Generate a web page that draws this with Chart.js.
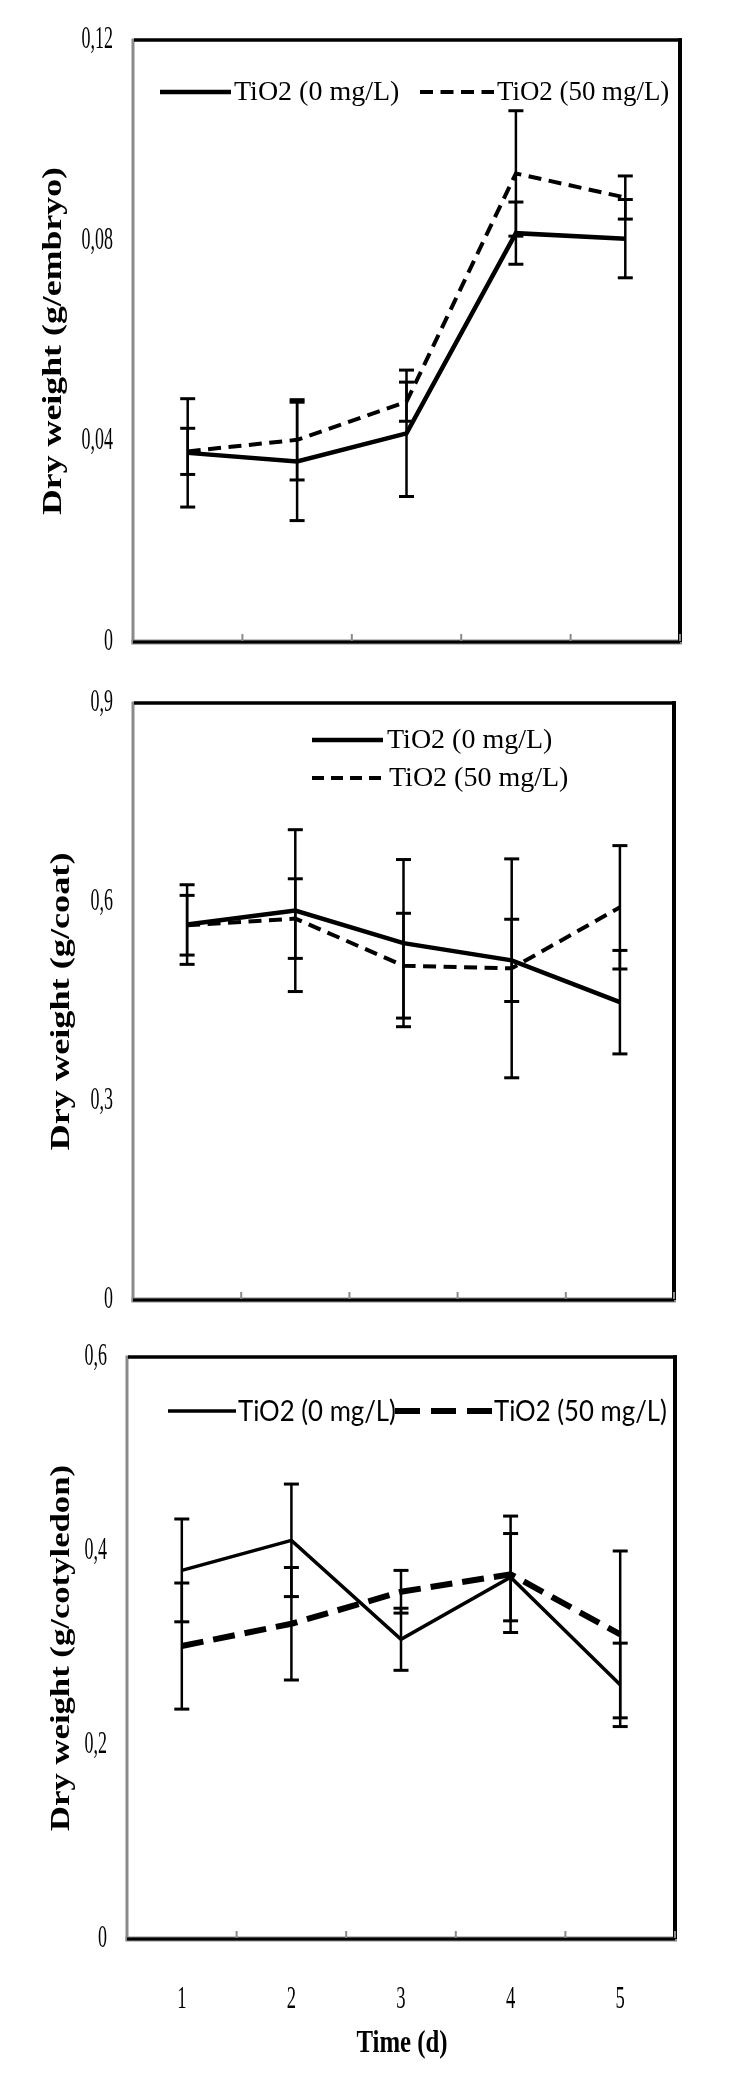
<!DOCTYPE html>
<html>
<head>
<meta charset="utf-8">
<title>Dry weight vs time</title>
<script src="https://cdn.jsdelivr.net/npm/chart.js@4.4.1/dist/chart.umd.min.js"></script>
<style>
  html, body { margin: 0; padding: 0; background: #ffffff; }
  body { width: 752px; height: 2079px; position: relative; overflow: hidden; }
  canvas { position: absolute; left: 0; }
</style>
</head>
<body>
<canvas id="chartEmbrion" width="752" height="680" style="top:0px"></canvas>
<canvas id="chartCubierta" width="752" height="650" style="top:680px"></canvas>
<canvas id="chartCotiledon" width="752" height="749" style="top:1330px"></canvas>
<script>
// Datos (peso seco por día)
const dias = ['1', '2', '3', '4', '5'];
const etiquetas = ['TiO2 (0 mg/L)', 'TiO2 (50 mg/L)'];

// embrión
const embrion0 = [0.0377, 0.0360, 0.0416, 0.0815, 0.0804];
const embrion50 = [0.0380, 0.0403, 0.0479, 0.0934, 0.0886];
const embrion0Err = [0.0108, 0.0118, 0.0126, 0.0062, 0.0078];
const embrion50Err = [0.0046, 0.0080, 0.0039, 0.0125, 0.0043];
const embrionTicks = ['0', '0,04', '0,08', '0,12'];

// cubierta (coat)
const cubierta0 = [0.566, 0.587, 0.538, 0.512, 0.449];
const cubierta50 = [0.565, 0.575, 0.504, 0.500, 0.592];
const cubierta0Err = [0.060, 0.122, 0.126, 0.062, 0.078];
const cubierta50Err = [0.045, 0.060, 0.079, 0.165, 0.093];
const cubiertaTicks = ['0', '0,3', '0,6', '0,9'];

// cotiledón
const cotiledon0 = [0.380, 0.411, 0.309, 0.373, 0.262];
const cotiledon50 = [0.302, 0.325, 0.358, 0.376, 0.314];
const cotiledon0Err = [0.053, 0.058, 0.032, 0.045, 0.043];
const cotiledon50Err = [0.065, 0.058, 0.022, 0.060, 0.086];
const cotiledonTicks = ['0', '0,2', '0,4', '0,6'];

const SERIF = '"Liberation Serif", "Times New Roman", serif';

// Texto con escala horizontal (la figura original tiene letras estrechas)
function texto(ctx, s, x, y, font, sx, align) {
    ctx.save();
    ctx.font = font;
    ctx.fillStyle = '#000';
    ctx.textAlign = align || 'left';
    ctx.textBaseline = 'middle';
    ctx.translate(x, y);
    ctx.scale(sx, 1);
    ctx.fillText(s, 0, 0);
    ctx.restore();
}

// Título del eje Y girado, estirado hasta el largo indicado
function tituloVertical(ctx, s, cx, cy, font, largo) {
    ctx.save();
    ctx.font = font;
    ctx.fillStyle = '#000';
    ctx.textAlign = 'center';
    ctx.textBaseline = 'middle';
    ctx.translate(cx, cy);
    ctx.rotate(-Math.PI / 2);
    const w = ctx.measureText(s).width;
    ctx.scale(largo / w, 1);
    ctx.fillText(s, 0, 0);
    ctx.restore();
}

function linea(ctx, x1, y1, x2, y2, color, ancho, dash) {
    ctx.save();
    ctx.strokeStyle = color;
    ctx.lineWidth = ancho;
    ctx.setLineDash(dash || []);
    ctx.beginPath();
    ctx.moveTo(x1, y1);
    ctx.lineTo(x2, y2);
    ctx.stroke();
    ctx.restore();
}

function crearGrafico(id, cfg) {
    const canvas = document.getElementById(id);
    const H = canvas.height;

    const pluginFigura = {
        id: 'figura',
        // barras de error (media ± error)
        beforeDatasetsDraw(chart) {
            const ctx = chart.ctx;
            const yScale = chart.scales.y;
            cfg.errores.forEach((errs, i) => {
                const meta = chart.getDatasetMeta(i);
                const datos = chart.data.datasets[i].data;
                meta.data.forEach((pt, j) => {
                    const yArriba = yScale.getPixelForValue(datos[j] + errs[j]);
                    const yAbajo = yScale.getPixelForValue(datos[j] - errs[j]);
                    linea(ctx, pt.x, yArriba, pt.x, yAbajo, '#000', 2.5);
                    linea(ctx, pt.x - 7.5, yArriba, pt.x + 7.5, yArriba, '#000', 3);
                    linea(ctx, pt.x - 7.5, yAbajo, pt.x + 7.5, yAbajo, '#000', 3);
                });
            });
        },
        afterDraw(chart) {
            const ctx = chart.ctx;
            const a = chart.chartArea;

            // marco: eje izquierdo gris, borde superior y derecho negros
            linea(ctx, a.left, a.top - 1.5, a.left, a.bottom + 2, '#8a8a8a', 3);
            linea(ctx, a.left - 1.5, a.bottom, a.right + 2, a.bottom, '#8a8a8a', 5);
            linea(ctx, a.left, a.bottom, a.right, a.bottom, '#000', 3);
            linea(ctx, a.left + 1, a.top, a.right + 2, a.top, '#000', 3.5);
            linea(ctx, a.right, a.top - 1.75, a.right, a.bottom, '#000', 4);

            // marcas entre categorías, hacia adentro
            const paso = (a.right - a.left) / dias.length;
            for (let k = 1; k <= dias.length; k++) {
                const x = a.left + k * paso;
                linea(ctx, x, a.bottom - 1, x, a.bottom - 8, '#8a8a8a', 2);
            }

            // etiquetas del eje Y
            const yScale = chart.scales.y;
            yScale.ticks.forEach((t, i) => {
                texto(ctx, cfg.ticks[i], a.left - 20, yScale.getPixelForValue(t.value),
                    '31px ' + SERIF, 0.58, 'right');
            });

            // etiquetas del eje X (solo el último panel)
            if (cfg.ejeX) {
                const xScale = chart.scales.x;
                dias.forEach((d, i) => {
                    texto(ctx, d, xScale.getPixelForValue(i), cfg.ejeX.y, '31px ' + SERIF, 0.6, 'center');
                });
                texto(ctx, 'Time (d)', cfg.ejeX.tx, cfg.ejeX.ty, 'bold 31px ' + SERIF, 0.8, 'center');
            }

            tituloVertical(ctx, cfg.tituloY, cfg.tituloX, (a.top + a.bottom) / 2,
                'bold 28px ' + SERIF, cfg.tituloLargo);

            // leyenda
            cfg.leyenda.forEach(item => {
                linea(ctx, item.x1, item.y, item.x2, item.y, '#000', item.ancho, item.dash);
                texto(ctx, item.txt, item.tx, item.y + 1, item.font, item.sx, 'left');
            });
        }
    };

    return new Chart(canvas.getContext('2d'), {
        type: 'line',
        data: {
            labels: dias,
            datasets: [
                {
                    label: etiquetas[0],
                    data: cfg.d0,
                    borderColor: '#000',
                    borderWidth: cfg.ancho0,
                    pointRadius: 0,
                    tension: 0,
                    fill: false
                },
                {
                    label: etiquetas[1],
                    data: cfg.d50,
                    borderColor: '#000',
                    borderWidth: cfg.ancho50,
                    borderDash: cfg.dash50,
                    pointRadius: 0,
                    tension: 0,
                    fill: false
                }
            ]
        },
        options: {
            responsive: false,
            animation: false,
            devicePixelRatio: 1,
            layout: { padding: { left: 0, right: 752 - cfg.derecha, top: cfg.arriba, bottom: 0 } },
            plugins: {
                legend: { display: false },
                tooltip: { enabled: false }
            },
            scales: {
                x: {
                    offset: true,
                    grid: { display: false },
                    border: { display: false },
                    ticks: { display: false },
                    afterFit: s => { s.height = H - cfg.abajo; }
                },
                y: {
                    min: 0,
                    max: cfg.max,
                    grid: { display: false },
                    border: { display: false },
                    ticks: { display: false, stepSize: cfg.paso },
                    afterFit: s => { s.width = cfg.izquierda; }
                }
            }
        },
        plugins: [pluginFigura]
    });
}

// Panel 1: embrión
crearGrafico('chartEmbrion', {
    d0: embrion0, d50: embrion50, errores: [embrion0Err, embrion50Err],
    max: 0.12, paso: 0.04, ticks: embrionTicks,
    izquierda: 133, derecha: 680, arriba: 40, abajo: 642,
    ancho0: 4.5, ancho50: 4, dash50: [13, 7.5],
    tituloY: 'Dry weight (g/embryo)', tituloX: 54, tituloLargo: 348,
    leyenda: [
        { x1: 160, x2: 231, y: 92, ancho: 4.5, dash: [], txt: etiquetas[0], tx: 234, font: '28px ' + SERIF, sx: 1 },
        { x1: 420, x2: 494, y: 92, ancho: 4, dash: [13, 7.5], txt: etiquetas[1], tx: 497, font: '28px ' + SERIF, sx: 0.96 }
    ]
});

// Panel 2: cubierta
crearGrafico('chartCubierta', {
    d0: cubierta0, d50: cubierta50, errores: [cubierta0Err, cubierta50Err],
    max: 0.9, paso: 0.3, ticks: cubiertaTicks,
    izquierda: 133, derecha: 674, arriba: 23, abajo: 620,
    ancho0: 4.5, ancho50: 4, dash50: [13, 7.5],
    tituloY: 'Dry weight (g/coat)', tituloX: 62, tituloLargo: 298,
    leyenda: [
        { x1: 312, x2: 383, y: 60, ancho: 4.5, dash: [], txt: etiquetas[0], tx: 387, font: '28px ' + SERIF, sx: 1 },
        { x1: 312, x2: 381, y: 98, ancho: 4, dash: [12, 7], txt: etiquetas[1], tx: 389, font: '28px ' + SERIF, sx: 1 }
    ]
});

// Panel 3: cotiledón
crearGrafico('chartCotiledon', {
    d0: cotiledon0, d50: cotiledon50, errores: [cotiledon0Err, cotiledon50Err],
    max: 0.6, paso: 0.2, ticks: cotiledonTicks,
    izquierda: 127, derecha: 675, arriba: 27, abajo: 609,
    ancho0: 3.5, ancho50: 6, dash50: [22, 10],
    tituloY: 'Dry weight (g/cotyledon)', tituloX: 62, tituloLargo: 366,
    ejeX: { y: 670, tx: 402, ty: 714 },
    leyenda: [
        { x1: 168, x2: 236, y: 81, ancho: 3.5, dash: [], txt: etiquetas[0], tx: 238, font: '28px Lato, "Open Sans", sans-serif', sx: 0.92 },
        { x1: 395, x2: 492, y: 81, ancho: 6, dash: [25, 11], txt: etiquetas[1], tx: 494, font: '28px Lato, "Open Sans", sans-serif', sx: 0.92 }
    ]
});
</script>
</body>
</html>
